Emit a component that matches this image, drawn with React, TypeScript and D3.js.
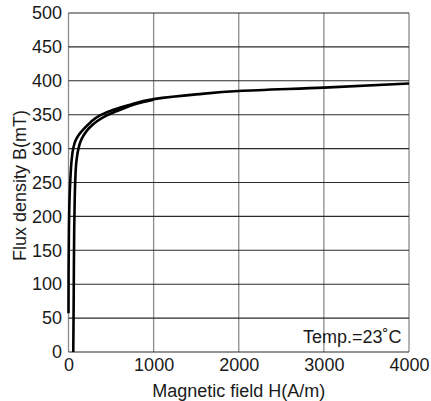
import { useEffect, useRef } from "react";
import * as d3 from "d3";

// Lower (ascending) branch of the B-H loop, [H (A/m), B (mT)]
const risingBranch: [number, number][] = [
    [56, 0], [60, 60], [63, 120], [67, 180], [73, 225], [80, 255], [92, 280],
    [112, 297], [140, 310], [180, 320], [240, 330], [330, 340], [450, 349],
    [600, 357], [800, 366], [1000, 372],
];

// Upper (descending) branch, joins the rising one near 1000 A/m
const fallingBranch: [number, number][] = [
    [0, 57], [1, 120], [5, 180], [12, 225], [22, 255], [36, 282], [55, 300],
    [80, 311], [120, 320], [180, 329], [260, 339], [370, 349], [520, 357],
    [700, 364], [1000, 373], [1500, 380], [2000, 385], [3000, 390], [4000, 396],
];

const xTicks = [0, 1000, 2000, 3000, 4000];
const yTicks = [0, 50, 100, 150, 200, 250, 300, 350, 400, 450, 500];

const xLabel = "Magnetic field H(A/m)";
const yLabel = "Flux density B(mT)";
const note = "Temp.=23˚C";

export default function App() {
    const svgRef = useRef<SVGSVGElement>(null);

    useEffect(() => {
        if (!svgRef.current) return;
        const svg = d3.select(svgRef.current);
        svg.selectAll("*").remove();

        const W = 431, H = 401;
        const margin = { top: 13, right: 22, bottom: 49, left: 68.5 };
        const width = W - margin.left - margin.right;
        const height = H - margin.top - margin.bottom;
        const font = "'Liberation Sans', Arial, Helvetica, sans-serif";
        const fs = 18;

        svg.attr("width", W).attr("height", H).attr("font-family", font);

        const g = svg.append("g").attr("transform", `translate(${margin.left},${margin.top})`);

        const x = d3.scaleLinear().domain([0, 4000]).range([0, width]);
        const y = d3.scaleLinear().domain([0, 500]).range([height, 0]);

        // vertical grid (grey), includes left/right frame
        g.append("g")
            .selectAll("line")
            .data(xTicks)
            .join("line")
            .attr("x1", d => x(d)).attr("x2", d => x(d))
            .attr("y1", 0).attr("y2", height)
            .attr("stroke", "#8c8c8c")
            .attr("stroke-width", 1.3);

        // horizontal grid (dark), includes top/bottom frame
        g.append("g")
            .selectAll("line")
            .data(yTicks)
            .join("line")
            .attr("x1", 0).attr("x2", width)
            .attr("y1", d => y(d)).attr("y2", d => y(d))
            .attr("stroke", "#2a2a2a")
            .attr("stroke-width", 1.1);

        // tick labels
        const xAxis = g.append("g")
            .attr("transform", `translate(0,${height})`)
            .call(d3.axisBottom(x).tickValues(xTicks).tickSize(0).tickPadding(6).tickFormat(d3.format("d")));
        xAxis.select(".domain").remove();
        xAxis.selectAll("text").attr("font-size", fs).attr("font-family", font).attr("fill", "#1a1a1a");

        const yAxis = g.append("g")
            .call(d3.axisLeft(y).tickValues(yTicks).tickSize(0).tickPadding(6.5).tickFormat(d3.format("d")));
        yAxis.select(".domain").remove();
        yAxis.selectAll("text").attr("font-size", fs).attr("font-family", font).attr("fill", "#1a1a1a");

        // curves
        const line = d3.line<[number, number]>()
            .x(d => x(d[0]))
            .y(d => y(d[1]))
            .curve(d3.curveMonotoneY);

        [risingBranch, fallingBranch].forEach(branch => {
            g.append("path")
                .datum(branch)
                .attr("fill", "none")
                .attr("stroke", "#000")
                .attr("stroke-width", 2.6)
                .attr("stroke-linejoin", "round")
                .attr("d", line);
        });

        // note
        g.append("text")
            .attr("x", width - 7.5)
            .attr("y", height - 9.5)
            .attr("text-anchor", "end")
            .attr("font-size", fs)
            .attr("fill", "#1a1a1a")
            .text(note);

        // axis titles
        svg.append("text")
            .attr("x", margin.left + width / 2)
            .attr("y", 397)
            .attr("text-anchor", "middle")
            .attr("font-size", fs)
            .attr("fill", "#1a1a1a")
            .text(xLabel);

        svg.append("text")
            .attr("transform", `translate(26,${margin.top + height / 2 + 3}) rotate(-90)`)
            .attr("text-anchor", "middle")
            .attr("font-size", fs)
            .attr("fill", "#1a1a1a")
            .text(yLabel);
    }, []);

    return (
        <div style={{ position: "absolute", left: 0, top: 0 }}>
            <svg ref={svgRef}></svg>
        </div>
    );
}
